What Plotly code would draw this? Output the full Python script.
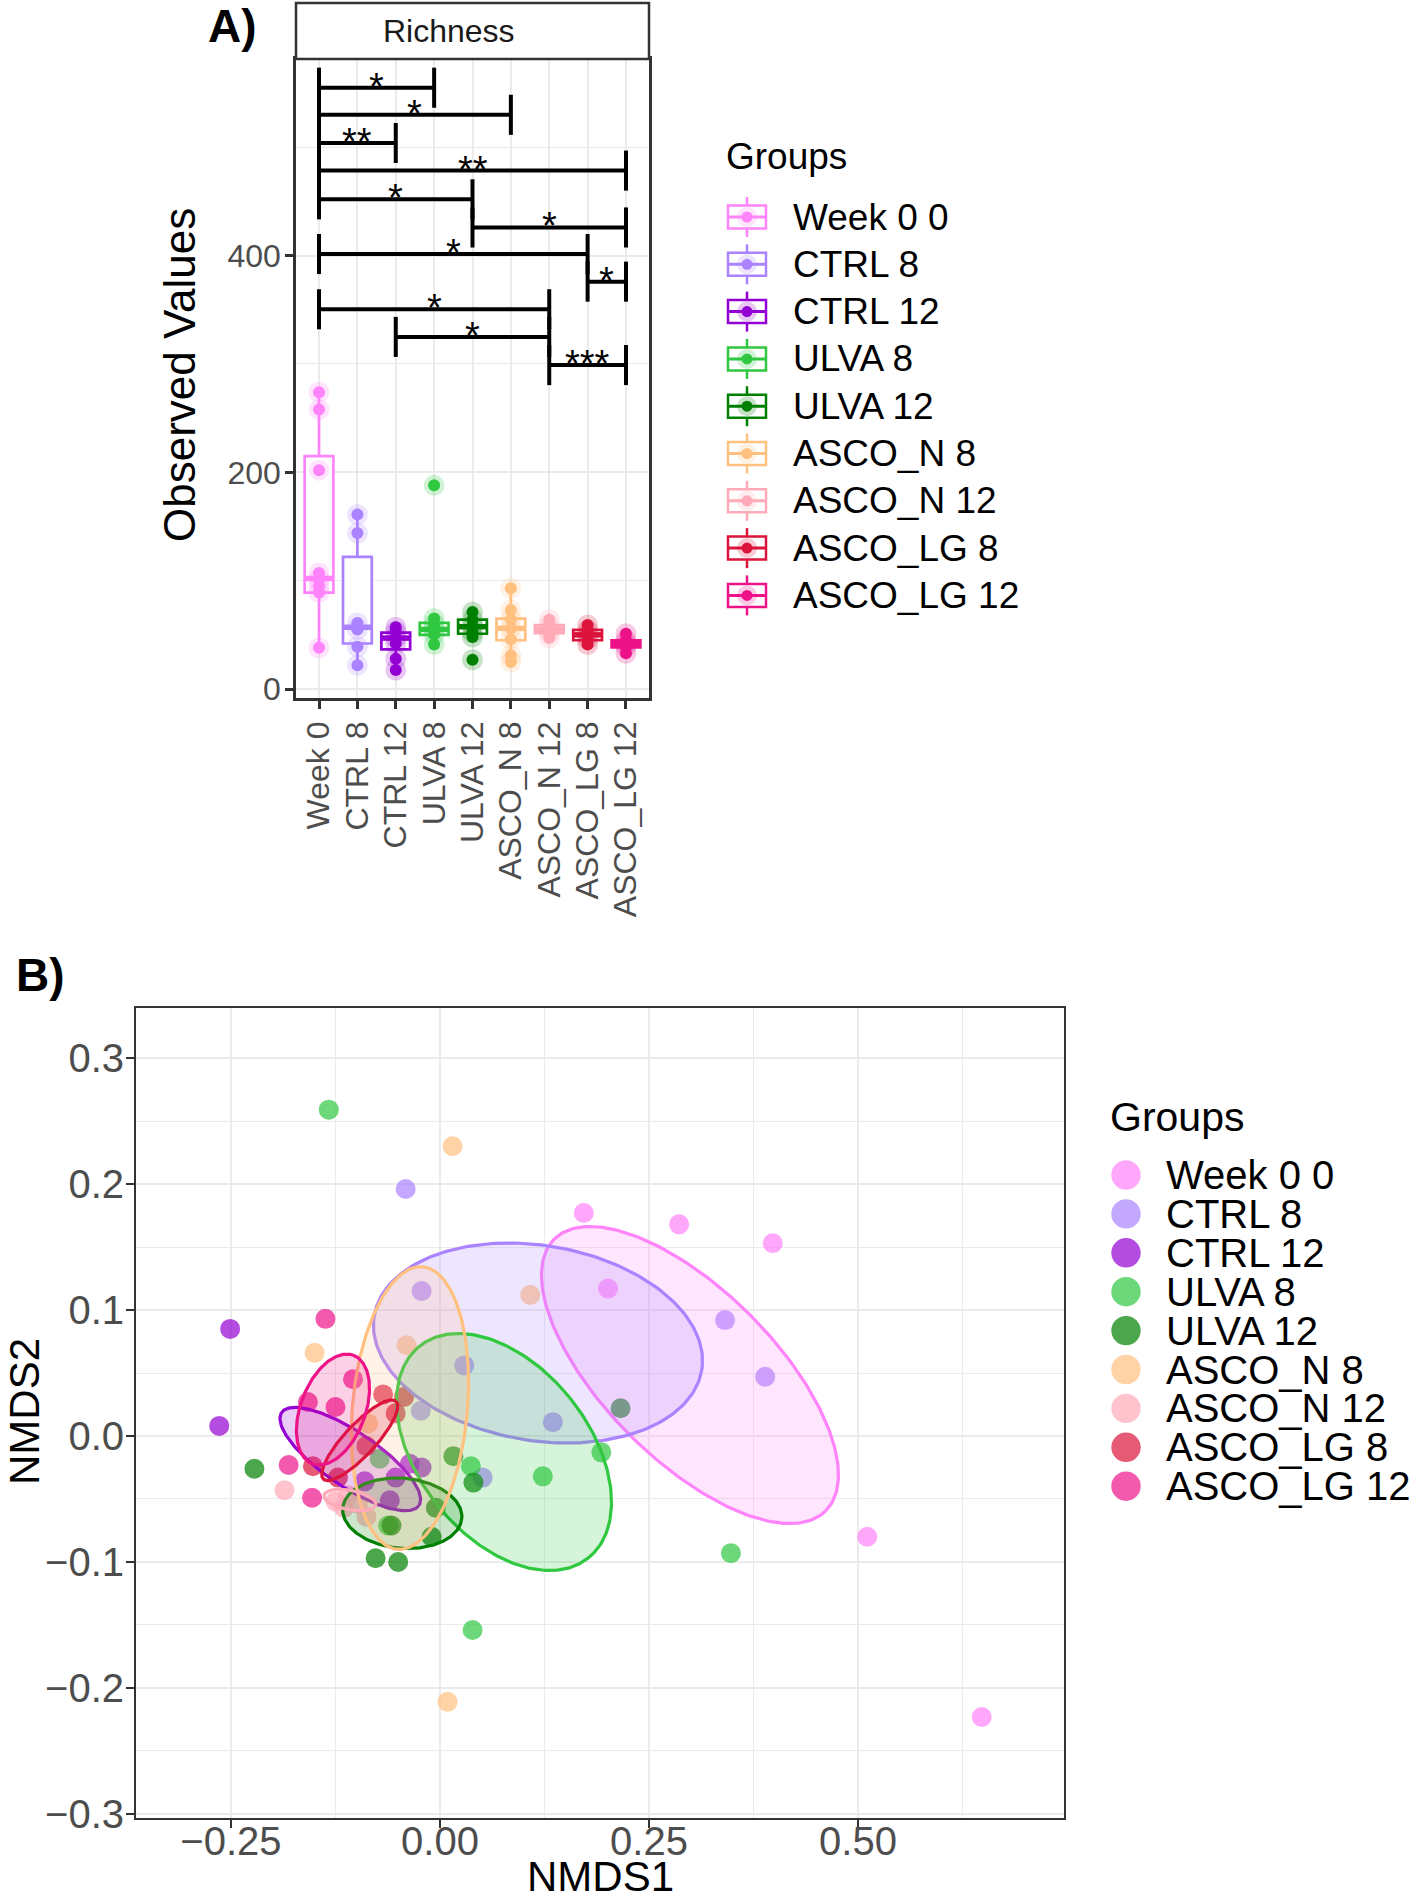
import numpy as np
import plotly.graph_objects as go

W, H = 1418, 1901
FONT = "Liberation Sans, Arial, Helvetica, sans-serif"
TXT = "#4D4D4D"
AXC = "#333333"
GRID = "#EBEBEB"

# ---------------- shared categories ----------------
groups = ["Week 0", "CTRL 8", "CTRL 12", "ULVA 8", "ULVA 12",
          "ASCO_N 8", "ASCO_N 12", "ASCO_LG 8", "ASCO_LG 12"]
legend_labels = ["Week 0 0", "CTRL 8", "CTRL 12", "ULVA 8", "ULVA 12",
                 "ASCO_N 8", "ASCO_N 12", "ASCO_LG 8", "ASCO_LG 12"]
colors = ["#FF83FA", "#AB82FF", "#9400D3", "#2FC840", "#008000",
          "#FFC080", "#FFAAB8", "#DC143C", "#EE1289"]

# ---------------- Panel A: richness ----------------
rich_week0 = [274, 258, 202, 107, 101, 95, 89, 38]
rich_ctrl8 = [161, 144, 61, 55, 39, 22]
rich_ctrl12 = [57, 53, 47, 42, 28, 17.5]
rich_ulva8 = [188, 65, 60, 55, 50, 41]
rich_ulva12 = [71, 64, 58, 52, 48, 27]
rich_ascon8 = [93, 73, 64, 56, 46, 31, 25]
rich_ascon12 = [64, 59, 55, 52, 47]
rich_ascolg8 = [59, 54, 50, 46, 41]
rich_ascolg12 = [51, 45, 42, 39, 33]

box_q1 = [89, 42, 36.5, 50, 51, 45, 51.5, 45, 38.5]
box_median = [102, 57, 47, 55, 57.5, 56, 55, 50, 42]
box_q3 = [215, 122, 52, 61, 64, 65, 59, 54.5, 45]
box_low = [38, 22, 17.5, 41, 47, 25, 47, 41, 33]
box_high = [274, 161, 57, 65, 71, 93, 64, 59, 51]

sig_from = [0, 0, 0, 0, 0, 4, 0, 7, 0, 2, 6]
sig_to = [3, 5, 2, 8, 4, 8, 7, 8, 6, 6, 8]
sig_y = [555, 530, 504, 478.5, 452, 426, 401.5, 376, 350.5, 325, 299]
sig_label = ["*", "*", "**", "**", "*", "*", "*", "*", "*", "*", "***"]
sig_tip = 18.5

# ---------------- Panel B: NMDS ----------------
nmds1_week0 = [0.172, 0.286, 0.398, 0.201, 0.511, 0.648]
nmds2_week0 = [0.177, 0.168, 0.153, 0.117, -0.080, -0.223]
nmds1_ctrl8 = [-0.041, -0.022, 0.029, -0.023, 0.051, 0.135, 0.341, 0.389]
nmds2_ctrl8 = [0.196, 0.115, 0.056, 0.020, -0.033, 0.011, 0.092, 0.047]
nmds1_ctrl12 = [-0.251, -0.264, -0.036, -0.022, -0.053, -0.090, -0.060]
nmds2_ctrl12 = [0.085, 0.008, -0.022, -0.025, -0.033, -0.036, -0.051]
nmds1_ulva8 = [-0.133, 0.037, 0.123, 0.193, 0.348, 0.039, -0.062, -0.072]
nmds2_ulva8 = [0.259, -0.024, -0.032, -0.013, -0.093, -0.154, -0.071, -0.018]
nmds1_ulva12 = [-0.222, 0.016, 0.040, -0.005, -0.010, -0.058, -0.077, -0.050, 0.216]
nmds2_ulva12 = [-0.026, -0.016, -0.037, -0.057, -0.080, -0.071, -0.097, -0.100, 0.022]
nmds1_ascon8 = [0.015, 0.108, -0.150, -0.040, -0.086, 0.009]
nmds2_ascon8 = [0.230, 0.112, 0.066, 0.072, 0.010, -0.211]
nmds1_ascon12 = [-0.186, -0.125, -0.110, -0.098, -0.088, -0.115]
nmds2_ascon12 = [-0.043, -0.052, -0.047, -0.054, -0.064, -0.057]
nmds1_ascolg8 = [-0.068, -0.043, -0.053, -0.088, -0.152, -0.122]
nmds2_ascolg8 = [0.033, 0.031, 0.018, -0.008, -0.024, -0.033]
nmds1_ascolg12 = [-0.137, -0.104, -0.158, -0.125, -0.181, -0.153]
nmds2_ascolg12 = [0.093, 0.045, 0.027, 0.023, -0.023, -0.049]

# ellipse parameters (centre + two conjugate semi-diameters, data units)
ell_cx = [0.299, 0.1172, -0.1073, 0.0766, -0.0451, -0.0359, -0.1077, -0.096, -0.128]
ell_cy = [0.0484, 0.0738, -0.0183, -0.0127, -0.0613, 0.0222, -0.0508, -0.0034, 0.021]
ell_ux = [0.1624, 0.1959, 0.0821, 0.1008, 0.0712, 0.0151, 0.0311, 0.0434, 0.0244]
ell_uy = [-0.1078, -0.0215, -0.0369, -0.0841, -0.0041, 0.1121, -0.0038, 0.0309, 0.0431]
ell_vx = [0.0719, -0.0190, -0.0183, -0.0798, -0.0036, 0.0685, -0.0021, 0.0135, 0.0363]
ell_vy = [0.0477, -0.0764, -0.0179, -0.0421, -0.0277, -0.0040, -0.0076, -0.0084, -0.0090]

rich_points = [rich_week0, rich_ctrl8, rich_ctrl12, rich_ulva8, rich_ulva12,
               rich_ascon8, rich_ascon12, rich_ascolg8, rich_ascolg12]
nmds1_points = [nmds1_week0, nmds1_ctrl8, nmds1_ctrl12, nmds1_ulva8, nmds1_ulva12,
                nmds1_ascon8, nmds1_ascon12, nmds1_ascolg8, nmds1_ascolg12]
nmds2_points = [nmds2_week0, nmds2_ctrl8, nmds2_ctrl12, nmds2_ulva8, nmds2_ulva12,
                nmds2_ascon8, nmds2_ascon12, nmds2_ascolg8, nmds2_ascolg12]


def rgba(hexc, a):
    h = hexc.lstrip("#")
    r, g, b = int(h[0:2], 16), int(h[2:4], 16), int(h[4:6], 16)
    return f"rgba({r},{g},{b},{a})"


def P(xpx):
    return xpx / W


def Q(ypx):
    return 1 - ypx / H


fig = go.Figure()

# ---------- Panel A traces ----------
BOXW = 0.75
for i, g in enumerate(groups):
    fig.add_trace(go.Box(
        x=[i], q1=[box_q1[i]], median=[box_median[i]], q3=[box_q3[i]],
        lowerfence=[box_low[i]], upperfence=[box_high[i]],
        width=BOXW, fillcolor="white", line=dict(color=colors[i], width=2.7),
        whiskerwidth=0, boxpoints=False, xaxis="x", yaxis="y",
        showlegend=False, hoverinfo="skip"))

for i, g in enumerate(groups):
    fig.add_trace(go.Scatter(
        x=[i - BOXW / 2, i + BOXW / 2], y=[box_median[i], box_median[i]],
        mode="lines", line=dict(color=colors[i], width=5.5),
        xaxis="x", yaxis="y", showlegend=False, hoverinfo="skip"))

for i, g in enumerate(groups):
    pts = rich_points[i]
    fig.add_trace(go.Scatter(
        x=[i] * len(pts), y=pts, mode="markers",
        marker=dict(size=21, color=rgba(colors[i], 0.22), line=dict(width=0)),
        xaxis="x", yaxis="y", showlegend=False, hoverinfo="skip"))
    fig.add_trace(go.Scatter(
        x=[i] * len(pts), y=pts, mode="markers",
        marker=dict(size=12, color=colors[i], line=dict(width=0)),
        xaxis="x", yaxis="y", showlegend=False, hoverinfo="skip"))

for k in range(len(sig_y)):
    a, b, yy = sig_from[k], sig_to[k], sig_y[k]
    fig.add_trace(go.Scatter(
        x=[a, a, None, a, b, None, b, b],
        y=[yy - sig_tip, yy + sig_tip, None, yy, yy, None, yy - sig_tip, yy + sig_tip],
        mode="lines", line=dict(color="black", width=4),
        xaxis="x", yaxis="y", showlegend=False, hoverinfo="skip"))

# ---------- Panel B traces ----------
for i, g in enumerate(groups):
    fig.add_trace(go.Scatter(
        x=nmds1_points[i], y=nmds2_points[i], mode="markers",
        marker=dict(size=20, color=rgba(colors[i], 0.7), line=dict(width=0)),
        xaxis="x2", yaxis="y2", showlegend=False, hoverinfo="skip"))

t = np.linspace(0, 2 * np.pi, 241)
for i, g in enumerate(groups):
    ex = ell_cx[i] + ell_ux[i] * np.cos(t) + ell_vx[i] * np.sin(t)
    ey = ell_cy[i] + ell_uy[i] * np.cos(t) + ell_vy[i] * np.sin(t)
    fig.add_trace(go.Scatter(
        x=ex, y=ey, mode="lines", fill="toself",
        fillcolor=rgba(colors[i], 0.2), line=dict(color=colors[i], width=3.2),
        xaxis="x2", yaxis="y2", showlegend=False, hoverinfo="skip"))

# ---------- annotations & shapes ----------
ann = []
shapes = []

ann.append(dict(text="<b>A)</b>", x=P(232), y=Q(26), xref="paper", yref="paper",
                showarrow=False, xanchor="center", yanchor="middle",
                font=dict(size=46, color="black", family=FONT)))
ann.append(dict(text="<b>B)</b>", x=P(40), y=Q(975), xref="paper", yref="paper",
                showarrow=False, xanchor="center", yanchor="middle",
                font=dict(size=46, color="black", family=FONT)))

# facet strip
shapes.append(dict(type="rect", xref="paper", yref="paper",
                   x0=P(296), x1=P(649), y0=Q(59), y1=Q(3),
                   line=dict(color=AXC, width=2.5), fillcolor="white", layer="above"))
ann.append(dict(text="Richness", x=P(448.5), y=Q(31), xref="paper", yref="paper",
                showarrow=False, xanchor="center", yanchor="middle",
                font=dict(size=32, color="#1A1A1A", family=FONT)))

# significance stars
for k in range(len(sig_y)):
    ann.append(dict(text=sig_label[k], x=(sig_from[k] + sig_to[k]) / 2, y=sig_y[k],
                    xref="x", yref="y", showarrow=False, xanchor="center",
                    yanchor="middle", yshift=1,
                    font=dict(size=38, color="black", family=FONT)))

# axis titles
ann.append(dict(text="Observed Values", x=P(179), y=Q(375), xref="paper", yref="paper",
                showarrow=False, textangle=-90, xanchor="center", yanchor="middle",
                font=dict(size=44, color="black", family=FONT)))
ann.append(dict(text="NMDS2", x=P(24), y=Q(1412), xref="paper", yref="paper",
                showarrow=False, textangle=-90, xanchor="center", yanchor="middle",
                font=dict(size=42, color="black", family=FONT)))
ann.append(dict(text="NMDS1", x=P(600), y=Q(1876), xref="paper", yref="paper",
                showarrow=False, xanchor="center", yanchor="middle",
                font=dict(size=42, color="black", family=FONT)))

# legend A (boxplot keys)
ann.append(dict(text="Groups", x=P(724), y=Q(157), xref="paper", yref="paper",
                showarrow=False, xanchor="left", yanchor="middle",
                font=dict(size=37, color="black", family=FONT)))
for i, lab in enumerate(legend_labels):
    yc = 217 + 47.3 * i
    c = colors[i]
    shapes.append(dict(type="line", xref="paper", yref="paper",
                       x0=P(747), x1=P(747), y0=Q(yc - 20), y1=Q(yc + 20),
                       line=dict(color=c, width=2.5)))
    shapes.append(dict(type="rect", xref="paper", yref="paper",
                       x0=P(728), x1=P(766), y0=Q(yc + 11.5), y1=Q(yc - 11.5),
                       line=dict(color=c, width=2.5), fillcolor="white"))
    shapes.append(dict(type="line", xref="paper", yref="paper",
                       x0=P(728), x1=P(766), y0=Q(yc), y1=Q(yc),
                       line=dict(color=c, width=3)))
    shapes.append(dict(type="circle", xref="paper", yref="paper",
                       x0=P(747 - 10), x1=P(747 + 10), y0=Q(yc + 10), y1=Q(yc - 10),
                       line=dict(width=0), fillcolor=rgba(c, 0.22)))
    shapes.append(dict(type="circle", xref="paper", yref="paper",
                       x0=P(747 - 5.5), x1=P(747 + 5.5), y0=Q(yc + 5.5), y1=Q(yc - 5.5),
                       line=dict(width=0), fillcolor=c))
    ann.append(dict(text=lab, x=P(791), y=Q(yc), xref="paper", yref="paper",
                    showarrow=False, xanchor="left", yanchor="middle",
                    font=dict(size=37, color="black", family=FONT)))

# legend B (point keys)
ann.append(dict(text="Groups", x=P(1108), y=Q(1117), xref="paper", yref="paper",
                showarrow=False, xanchor="left", yanchor="middle",
                font=dict(size=41, color="black", family=FONT)))
for i, lab in enumerate(legend_labels):
    yc = 1175 + 38.9 * i
    c = colors[i]
    r = 14.7
    shapes.append(dict(type="circle", xref="paper", yref="paper",
                       x0=P(1126 - r), x1=P(1126 + r), y0=Q(yc + r), y1=Q(yc - r),
                       line=dict(width=0), fillcolor=rgba(c, 0.7)))
    ann.append(dict(text=lab, x=P(1164), y=Q(yc), xref="paper", yref="paper",
                    showarrow=False, xanchor="left", yanchor="middle",
                    font=dict(size=40, color="black", family=FONT)))

axis_common = dict(showline=True, mirror=True, linecolor=AXC, zeroline=False,
                   ticks="outside", tickcolor=AXC, showgrid=True, gridcolor=GRID,
                   automargin=False)

fig.update_layout(
    width=W, height=H, autosize=False,
    margin=dict(l=0, r=0, t=0, b=0, pad=0),
    paper_bgcolor="white", plot_bgcolor="white",
    showlegend=False,
    font=dict(family=FONT, color="black"),
    xaxis=dict(domain=[P(296), P(649)], range=[-0.6, 8.6], anchor="y",
               tickmode="array", tickvals=list(range(len(groups))), ticktext=groups,
               tickangle=-90, tickfont=dict(size=32, color=TXT, family=FONT),
               ticklen=8, tickwidth=2.5, linewidth=2.5, gridwidth=2, **axis_common),
    yaxis=dict(domain=[Q(698), Q(59)], range=[-8.3, 581.5], anchor="x",
               tickmode="array", tickvals=[0, 200, 400],
               tickfont=dict(size=32, color=TXT, family=FONT),
               ticklen=8, tickwidth=2.5, linewidth=2.5, gridwidth=2,
               ticklabelstandoff=-2,
               minor=dict(tickmode="array", tickvals=[100, 300, 500], showgrid=True,
                          gridcolor=GRID, gridwidth=1, ticks=""),
               **axis_common),
    xaxis2=dict(domain=[P(136), P(1064)], range=[-0.3636, 0.7464], anchor="y2",
                tickmode="array", tickvals=[-0.25, 0, 0.25, 0.5], tickformat=".2f",
                tickfont=dict(size=40, color=TXT, family=FONT),
                ticklen=8, tickwidth=2, linewidth=2, gridwidth=2,
                ticklabelstandoff=-21,
                minor=dict(tickmode="array", tickvals=[-0.125, 0.125, 0.375, 0.625],
                           showgrid=True, gridcolor=GRID, gridwidth=1, ticks=""),
                **axis_common),
    yaxis2=dict(domain=[Q(1818), Q(1008)], range=[-0.3032, 0.3397], anchor="x2",
                tickmode="array", tickvals=[-0.3, -0.2, -0.1, 0, 0.1, 0.2, 0.3],
                tickformat=".1f",
                tickfont=dict(size=40, color=TXT, family=FONT),
                ticklen=8, tickwidth=2, linewidth=2, gridwidth=2,
                ticklabelstandoff=-6,
                minor=dict(tickmode="array",
                           tickvals=[-0.25, -0.15, -0.05, 0.05, 0.15, 0.25],
                           showgrid=True, gridcolor=GRID, gridwidth=1, ticks=""),
                **axis_common),
    annotations=ann,
    shapes=shapes,
)

css_fix = (
    "document.documentElement.style.cssText='margin:0;padding:0;overflow:hidden;';"
    "document.body.style.cssText='margin:0;padding:0;overflow:hidden;"
    "font-size:0;line-height:0;';"
)
fig.write_html("out.html", config={"displayModeBar": False}, post_script=css_fix)
